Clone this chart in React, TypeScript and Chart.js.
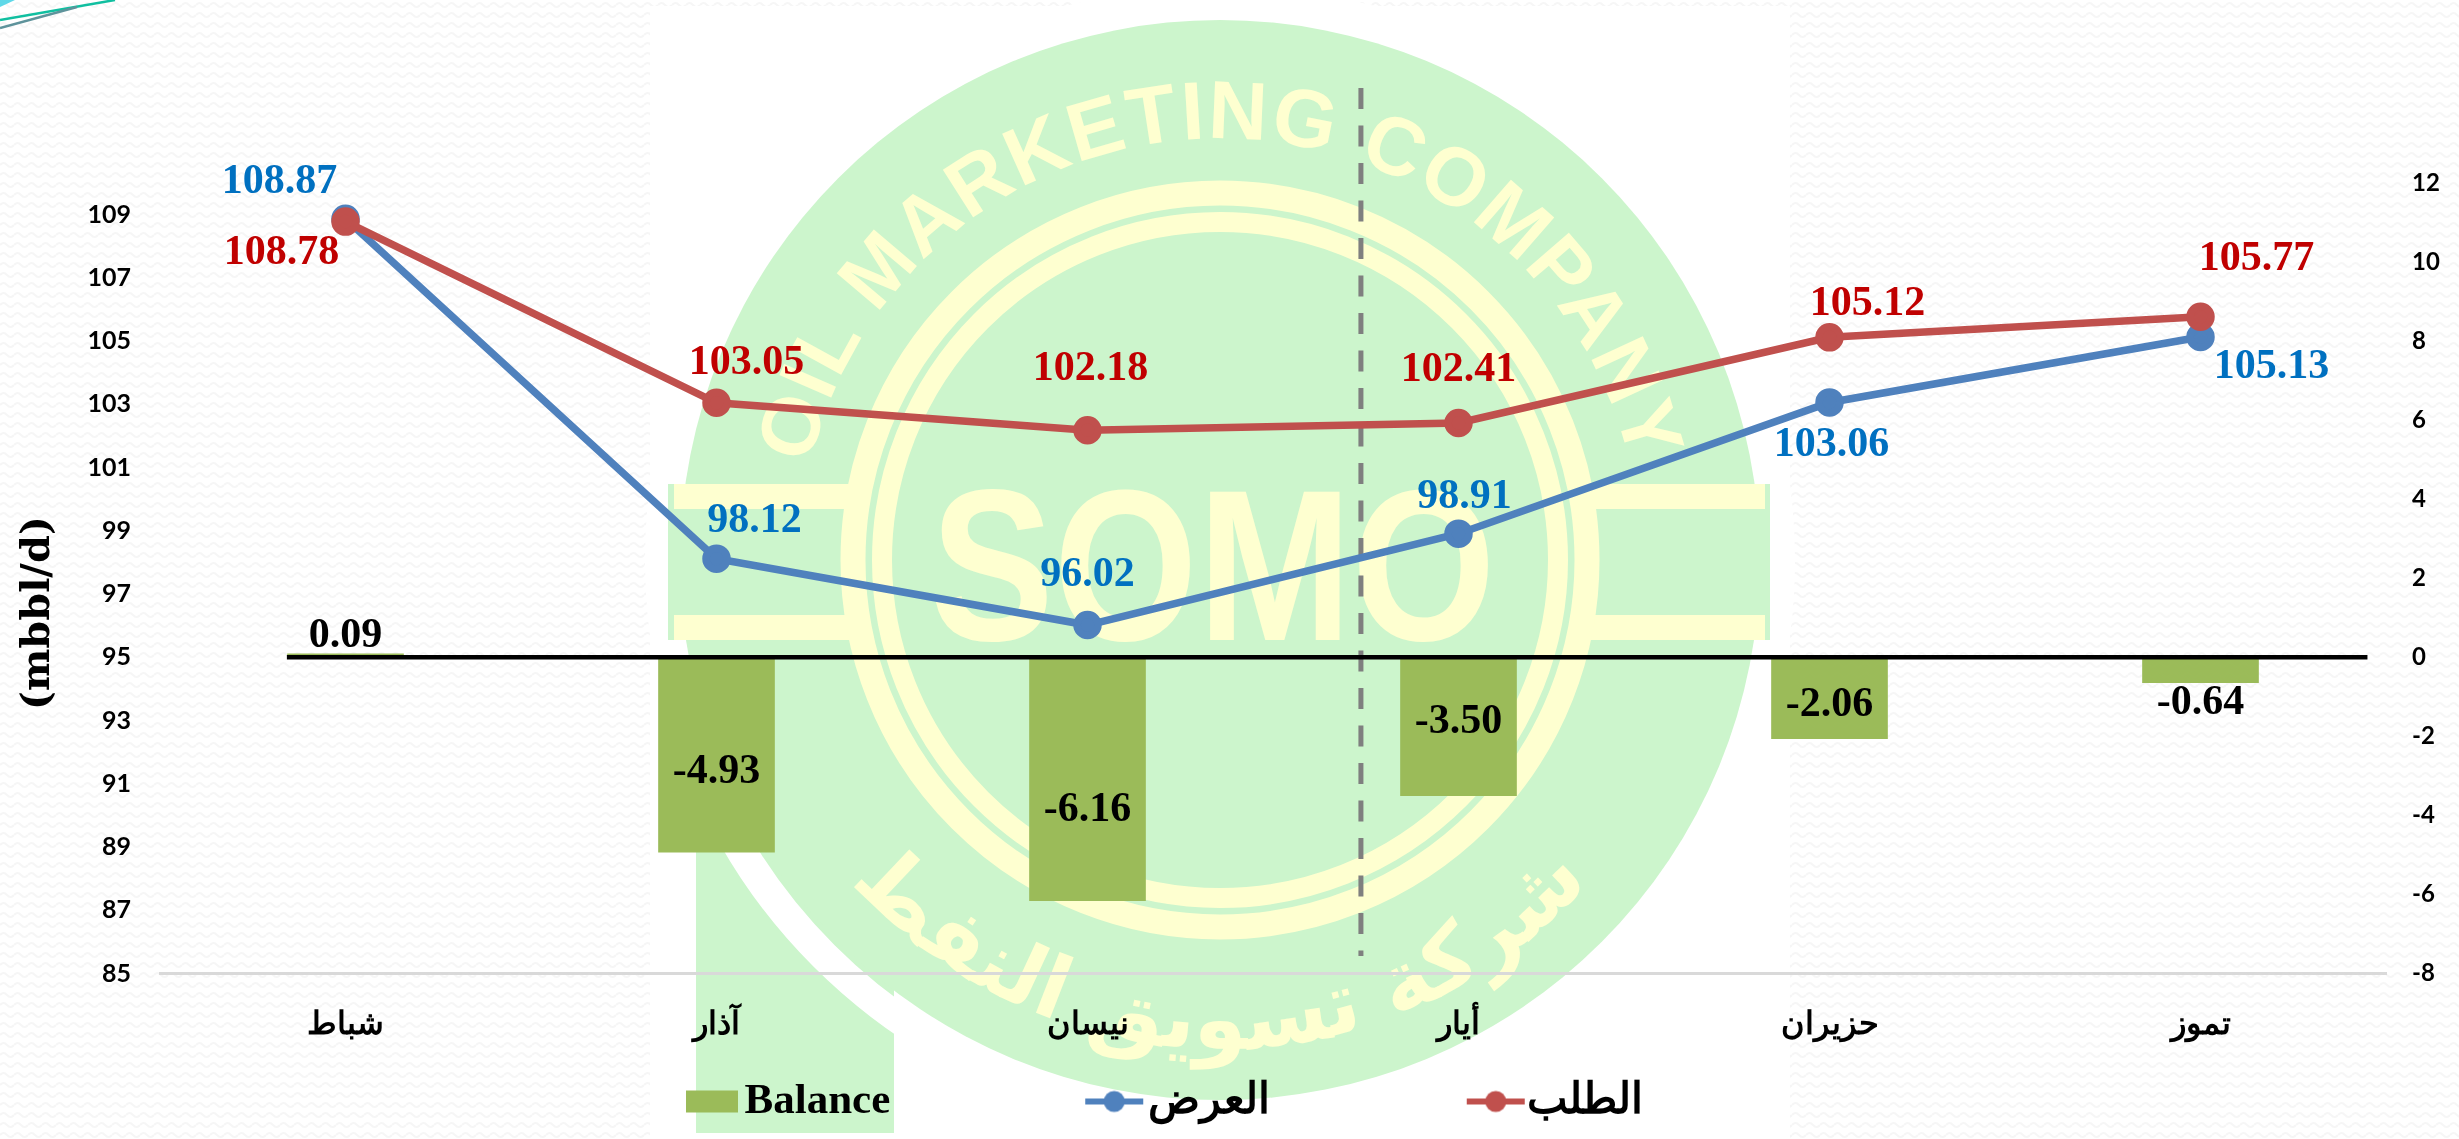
import React, { useEffect, useRef } from "react";
import { Chart, registerables } from "chart.js";

Chart.register(...registerables);

const categories = ["شباط", "آذار", "نيسان", "أيار", "حزيران", "تموز"];
const supply = [108.87, 98.12, 96.02, 98.91, 103.06, 105.13];
const demand = [108.78, 103.05, 102.18, 102.41, 105.12, 105.77];
const balance = [0.09, -4.93, -6.16, -3.5, -2.06, -0.64];
const leftTicks = [85, 87, 89, 91, 93, 95, 97, 99, 101, 103, 105, 107, 109];
const rightTicks = [-8, -6, -4, -2, 0, 2, 4, 6, 8, 10, 12];

const supplyName = "العرض";
const demandName = "الطلب";
const balanceName = "Balance";

// Label placement relative to each mark, in pixels
const supplyOffsets = [[-66, -37], [38, -37], [0, -50], [6, -37], [2, 43], [71, 30]];
const demandOffsets = [[-64, 32], [30, -40], [3, -61], [0, -53], [38, -33], [56, -58]];
const balanceOffsets = [[0, -18], [0, -80], [0, -91], [0, -73], [0, -34], [0, 21]];

const GREEN = "#9BBB59";
const BLUE = "#4F81BD";
const RED = "#C0504D";
const LABEL_BLUE = "#0070C0";
const LABEL_RED = "#C00000";
const SERIF = "'Liberation Serif', 'Times New Roman', serif";

function marker(kind: "box" | "line", color: string, w: number, rightGap: number, lineW: number) {
  const c = document.createElement("canvas");
  c.width = w;
  c.height = 44;
  const x = c.getContext("2d")!;
  x.fillStyle = color;
  if (kind === "box") {
    x.fillRect(w - rightGap - lineW, 11, lineW, 22);
  } else {
    x.fillRect(w - rightGap - lineW, 19, lineW, 6);
    x.beginPath();
    x.arc(w - rightGap - lineW / 2, 22, 10.5, 0, Math.PI * 2);
    x.fill();
  }
  return c;
}

const overlayPlugin = {
  id: "overlay",
  afterLayout(chart: any) {
    const lg = chart.legend;
    if (lg) {
      const w = lg.right - lg.left;
      lg.left = 487;
      lg.right = 487 + w;
    }
  },
  beforeDatasetsDraw(chart: any) {
    const { ctx, scales } = chart;
    ctx.save();
    ctx.strokeStyle = "#7F7F7F";
    ctx.lineWidth = 5;
    ctx.setLineDash([21, 16.5]);
    const dx = scales.x.getPixelForValue(2.737);
    ctx.beginPath();
    ctx.moveTo(dx, 88);
    ctx.lineTo(dx, 956);
    ctx.stroke();
    ctx.restore();
  },
  afterDatasetsDraw(chart: any) {
    const { ctx, scales } = chart;
    ctx.save();
    // zero line of the balance axis
    ctx.strokeStyle = "#000000";
    ctx.lineWidth = 4.5;
    const zero = scales.y1.getPixelForValue(0);
    ctx.beginPath();
    ctx.moveTo(scales.x.getPixelForValue(-0.158), zero);
    ctx.lineTo(scales.x.getPixelForValue(5.45), zero);
    ctx.stroke();

    ctx.font = `bold 42px ${SERIF}`;
    ctx.textAlign = "center";
    ctx.textBaseline = "middle";
    const draw = (values: number[], scale: any, offs: number[][], color: string, fmt: (v: number) => string) => {
      ctx.fillStyle = color;
      values.forEach((v, i) => {
        ctx.fillText(fmt(v), scales.x.getPixelForValue(i) + offs[i][0], scale.getPixelForValue(v) + offs[i][1]);
      });
    };
    draw(balance, scales.y1, balanceOffsets, "#000000", (v) => v.toFixed(2));
    draw(supply, scales.y, supplyOffsets, LABEL_BLUE, (v) => v.toFixed(2));
    draw(demand, scales.y, demandOffsets, LABEL_RED, (v) => v.toFixed(2));
    ctx.restore();
  },
};

const DISC = "#CCF5CC";
const YEL = "#FEFFD0";

function Backdrop() {
  const cx = 1220;
  const cy = 560;
  const rt = 421;
  const rb = 490;
  return (
    <svg
      width={2459}
      height={1139}
      style={{ position: "absolute", left: 0, top: 0, display: "block" }}
      aria-hidden="true"
    >
      <defs>
        <pattern id="wave" width="14" height="10" patternUnits="userSpaceOnUse">
          <path d="M0 5 Q3.5 1 7 5 T14 5" fill="none" stroke="#F6F6F6" strokeWidth="2" />
        </pattern>
        <path id="topArc" d={`M ${cx - rt * 0.985} ${cy - rt * 0.174} A ${rt} ${rt} 0 0 1 ${cx + rt * 0.985} ${cy - rt * 0.174}`} />
        <path id="botArc" d={`M ${cx - rb * 0.82} ${cy + rb * 0.57} A ${rb} ${rb} 0 0 0 ${cx + rb * 0.82} ${cy + rb * 0.57}`} />
      </defs>
      <rect x="0" y="0" width="2459" height="1139" fill="#FFFFFF" />
      <rect x="0" y="0" width="650" height="1139" fill="url(#wave)" />
      <rect x="1790" y="0" width="669" height="1139" fill="url(#wave)" />
      <rect x="650" y="0" width="1140" height="6" fill="url(#wave)" />

      {/* tail, gap and disc of the logo */}
      <rect x="696" y="640" width="198" height="493" fill={DISC} />
      <circle cx={cx} cy={cy} r={560} fill="none" stroke="#FFFFFF" strokeWidth={30} />
      <circle cx={cx} cy={cy} r={540} fill={DISC} />
      <rect x="668" y="484" width="1102" height="156" fill={DISC} />
      <rect x="674" y="484" width="192" height="25" fill={YEL} />
      <rect x="674" y="615" width="192" height="25" fill={YEL} />
      <rect x="1573" y="484" width="192" height="25" fill={YEL} />
      <rect x="1573" y="615" width="192" height="25" fill={YEL} />
      <circle cx={cx} cy={cy} r={367} fill="none" stroke={YEL} strokeWidth={25} />
      <circle cx={cx} cy={cy} r={338} fill="none" stroke={YEL} strokeWidth={20} />
      <text
        x={cx - 7}
        y={640}
        fill={YEL}
        fontFamily="'Liberation Sans', sans-serif"
        fontWeight="bold"
        fontSize={215}
        textLength={565}
        lengthAdjust="spacingAndGlyphs"
        textAnchor="middle"
      >
        SOMO
      </text>
      <text fill={YEL} fontFamily="'Liberation Sans', sans-serif" fontWeight="bold" fontSize={82}>
        <textPath href="#topArc" startOffset="50%" textAnchor="middle" letterSpacing="2">
          OIL MARKETING COMPANY
        </textPath>
      </text>
      <text fill={YEL} fontFamily="'DejaVu Sans', sans-serif" fontWeight="bold" fontSize={86}>
        <textPath href="#botArc" startOffset="50%" textAnchor="middle">
          شركة تسويق النفط
        </textPath>
      </text>

      {/* corner ornament */}
      <polygon points="0,0 15,0 0,7" fill="#5FD8E8" />
      <line x1="0" y1="20" x2="115" y2="0" stroke="#10BFA0" strokeWidth="2.5" />
      <line x1="0" y1="28" x2="77" y2="7" stroke="#5E939B" strokeWidth="2.5" />
    </svg>
  );
}

export default function App() {
  const ref = useRef<HTMLCanvasElement | null>(null);

  useEffect(() => {
    const legendW = 226;
    const markW = legendW + 42;
    const legendMarks = [
      { text: balanceName, pointStyle: marker("box", GREEN, markW, 6, 52) },
      { text: supplyName, pointStyle: marker("line", BLUE, markW, 4, 58) },
      { text: demandName, pointStyle: marker("line", RED, markW, 2, 58) },
    ];
    const tickFont = { family: "Lato, sans-serif", weight: "bold" as const, size: 25 };
    const chart = new Chart(ref.current!, {
      type: "bar",
      data: {
        labels: categories,
        datasets: [
          {
            type: "bar",
            label: balanceName,
            data: balance,
            yAxisID: "y1",
            backgroundColor: GREEN,
            barThickness: 116,
            order: 3,
          },
          {
            type: "line",
            label: supplyName,
            data: supply,
            yAxisID: "y",
            borderColor: BLUE,
            backgroundColor: BLUE,
            borderWidth: 7.5,
            pointRadius: 10.5,
            pointBackgroundColor: BLUE,
            pointBorderColor: BLUE,
            tension: 0,
            order: 2,
          },
          {
            type: "line",
            label: demandName,
            data: demand,
            yAxisID: "y",
            borderColor: RED,
            backgroundColor: RED,
            borderWidth: 7.5,
            pointRadius: 10.5,
            pointBackgroundColor: RED,
            pointBorderColor: RED,
            tension: 0,
            order: 1,
          },
        ],
      } as any,
      options: {
        responsive: false,
        animation: false,
        layout: { padding: { top: 183, bottom: 6, left: 0, right: 0 } },
        plugins: {
          tooltip: { enabled: false },
          legend: {
            display: true,
            position: "bottom",
            align: "start",
            labels: {
              usePointStyle: true,
              pointStyleWidth: legendW,
              boxHeight: 40,
              padding: 10,
              color: "#000000",
              font: { family: SERIF, weight: "bold", size: 43 },
              generateLabels: () =>
                legendMarks.map((m, i) => ({
                  text: m.text,
                  pointStyle: m.pointStyle,
                  datasetIndex: i,
                  fillStyle: "#000",
                  strokeStyle: "#000",
                  lineWidth: 0,
                  hidden: false,
                })),
            },
          },
        },
        scales: {
          x: {
            grid: { display: false, drawTicks: false },
            border: { display: true, color: "#D9D9D9", width: 3 },
            ticks: {
              padding: 33,
              color: "#000000",
              maxRotation: 0,
              font: { family: SERIF, weight: "bold", size: 32 },
            },
            afterFit(s: any) {
              s.height = 96.5;
            },
          },
          y: {
            position: "left",
            min: 85,
            max: 110,
            grid: { display: false, drawTicks: false },
            border: { display: false },
            ticks: { padding: 29, color: "#000000", font: tickFont },
            afterBuildTicks(s: any) {
              s.ticks = leftTicks.map((value) => ({ value }));
            },
            afterFit(s: any) {
              s.width = 160;
            },
            title: {
              display: true,
              text: "(mbbl/d)     ",
              color: "#000000",
              padding: { top: 15, bottom: 0 },
              font: { family: "'DejaVu Serif', serif", weight: "bold", size: 40 },
            },
          },
          y1: {
            position: "right",
            min: -8,
            max: 12,
            grid: { display: false, drawTicks: false },
            border: { display: false },
            ticks: { padding: 26, color: "#000000", font: { ...tickFont, size: 24 } },
            afterBuildTicks(s: any) {
              s.ticks = rightTicks.map((value) => ({ value }));
            },
            afterFit(s: any) {
              s.width = 73;
            },
          },
        },
      } as any,
      plugins: [overlayPlugin],
    });
    return () => chart.destroy();
  }, []);

  return (
    <div style={{ position: "absolute", left: 0, top: 0, width: 2459, height: 1139, overflow: "hidden" }}>
      <Backdrop />
      <canvas
        ref={ref}
        width={2459}
        height={1139}
        style={{ position: "absolute", left: 0, top: 0, display: "block" }}
      />
    </div>
  );
}
